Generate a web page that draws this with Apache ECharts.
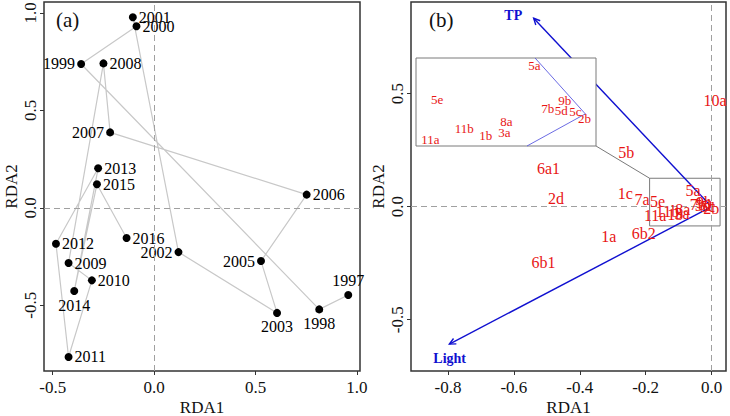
<!DOCTYPE html>
<html><head><meta charset="utf-8">
<script src="https://cdn.jsdelivr.net/npm/echarts@6/dist/echarts.min.js"></script>
<style>html,body{margin:0;padding:0;background:#fff}#c{width:730px;height:416px}</style>
</head><body><div id="c"></div>
<script>
// ---------- Panel (a): year scores ----------
const years    = ['1997','1998','1999','2000','2001','2002','2003','2005','2006','2007','2008','2009','2010','2011','2012','2013','2014','2015','2016'];
const yearRDA1 = [0.957,0.814,-0.360,-0.087,-0.105,0.120,0.606,0.527,0.752,-0.217,-0.250,-0.422,-0.307,-0.422,-0.484,-0.276,-0.394,-0.282,-0.136];
const yearRDA2 = [-0.447,-0.521,0.738,0.932,0.978,-0.227,-0.539,-0.273,0.068,0.387,0.741,-0.283,-0.372,-0.765,-0.184,0.203,-0.427,0.121,-0.155];
const yearLabelSide = {'1997':'top','1998':'bottom','1999':'left','2002':'left','2003':'bottom','2005':'left','2007':'left','2014':'bottom'};

// ---------- Panel (b): species scores and environmental vectors ----------
const speciesOuter = ['10a','5b','6a1','2d','1c','7a','1a','6b2','6b1'];
const outerRDA1    = [0.011,-0.259,-0.495,-0.472,-0.262,-0.211,-0.312,-0.206,-0.510];
const outerRDA2    = [0.472,0.239,0.170,0.037,0.059,0.033,-0.130,-0.118,-0.248];
const speciesCluster = ['5a','5e','7b','9b','5d','5c','2b','8a','3a','1b','11b','11a'];
const clusterRDA1    = [-0.0563,-0.1637,-0.0416,-0.0228,-0.0265,-0.011,-0.001,-0.0872,-0.0894,-0.110,-0.1336,-0.171];
const clusterRDA2    = [0.0738,0.0215,0.0088,0.020,0.0046,0.003,-0.0066,-0.0118,-0.0288,-0.0338,-0.0226,-0.0389];
const envVars  = ['TP','Light'];
const envRDA1  = [-0.540,-0.796];
const envRDA2  = [0.834,-0.608];
const envLabelRDA1 = [-0.602,-0.795];
const envLabelRDA2 = [0.845,-0.672];
const zoomBox = {x0:-0.188, x1:0.026, y0:-0.085, y1:0.126};

// ---------- ticks ----------
const ticksAx = [-0.5,0,0.5,1.0];
const ticksAy = [-0.5,0,0.5,1.0];
const ticksBx = [-0.8,-0.6,-0.4,-0.2,0];
const ticksBy = [-0.5,0,0.5];

const FONT = "Liberation Serif, Times New Roman, serif";
const RED = '#e81515', BLUE = '#1010d0';

function axis(gi, min, max, ticks, name, isY) {
  return {
    type:'value', gridIndex:gi, min:min, max:max,
    name:name, nameLocation:'middle', nameGap:isY?24:28, nameRotate:isY?90:0, nameMoveOverlap:false,
    nameTextStyle:{fontFamily:FONT, fontSize:17, color:'#111'},
    axisLine:{show:false, onZero:false},
    splitLine:{show:false},
    axisTick:{show:true, length:4, customValues:ticks, lineStyle:{color:'#333', width:1}},
    axisLabel:{customValues:ticks, formatter:v=>Number(v).toFixed(1), rotate:isY?90:0, margin:isY?5:8,
      fontFamily:FONT, fontSize:17, color:'#111'}
  };
}
function hiddenAxis(gi, min, max) {
  return {type:'value', gridIndex:gi, min:min, max:max, show:false, axisLine:{onZero:false}, splitLine:{show:false}};
}
const zeroLines = (color, dash, w) => ({silent:true, symbol:'none', label:{show:false},
  lineStyle:{type:dash, color:color, width:w, opacity:1}, data:[{xAxis:0},{yAxis:0}], animation:false});

function arrowItem(params, api) {
  const s = api.coord([0,0]);
  const e = api.coord([api.value(0), api.value(1)]);
  const ang = Math.atan2(e[1]-s[1], e[0]-s[0]);
  const L = 7, a = Math.PI/7;
  const h1 = [e[0]-L*Math.cos(ang-a), e[1]-L*Math.sin(ang-a)];
  const h2 = [e[0]-L*Math.cos(ang+a), e[1]-L*Math.sin(ang+a)];
  return {type:'group', children:[
    {type:'line', shape:{x1:s[0],y1:s[1],x2:e[0],y2:e[1]}, style:{stroke:BLUE, lineWidth:1.4}},
    {type:'polyline', shape:{points:[h1,e,h2]}, style:{stroke:BLUE, lineWidth:1.4, fill:'none'}}
  ]};
}
function clippedLine(params, api) {
  const r = params.coordSys;
  const s = api.coord([0,0]);
  const e = api.coord([api.value(0), api.value(1)]);
  const dx = e[0]-s[0], dy = e[1]-s[1];
  let t = 1;
  if (dx<0) t = Math.min(t,(r.x-s[0])/dx);
  if (dx>0) t = Math.min(t,(r.x+r.width-s[0])/dx);
  if (dy<0) t = Math.min(t,(r.y-s[1])/dy);
  if (dy>0) t = Math.min(t,(r.y+r.height-s[1])/dy);
  return {type:'line', shape:{x1:s[0],y1:s[1],x2:s[0]+dx*t,y2:s[1]+dy*t}, style:{stroke:'#5a5ae0', lineWidth:0.9}};
}
function textPoints(names, xs, ys) { return names.map((n,i)=>({name:n, value:[xs[i], ys[i]]})); }
function labelSeries(xi, yi, data, size, color, weight, z) {
  return {type:'scatter', xAxisIndex:xi, yAxisIndex:yi, data:data, symbolSize:1, z:z||5,
    itemStyle:{color:'rgba(0,0,0,0)', opacity:1}, silent:true,
    label:{show:true, position:'inside', formatter:'{b}', fontFamily:FONT, fontSize:size, color:color, opacity:1, fontWeight:weight||'normal'}};
}

const chart = echarts.init(document.getElementById('c'), null, {renderer:'svg'});
const gridBase = {show:true, outerBoundsMode:'none', containLabel:false};
const option = {
  animation:false,
  backgroundColor:'#fff',
  title:[
    {text:'(a)', left:56, top:9, padding:0, textStyle:{fontFamily:FONT, fontSize:21, fontWeight:'normal', color:'#111'}},
    {text:'(b)', left:429, top:9, padding:0, textStyle:{fontFamily:FONT, fontSize:21, fontWeight:'normal', color:'#111'}}
  ],
  grid:[
    Object.assign({left:44, top:2, width:316, height:369, borderColor:'#333', borderWidth:1.5, backgroundColor:'transparent'}, gridBase),
    Object.assign({left:411, top:2, width:315, height:369, borderColor:'#333', borderWidth:1.5, backgroundColor:'transparent'}, gridBase),
    Object.assign({left:416, top:58, width:180, height:88, borderColor:'#7a7a7a', borderWidth:1, backgroundColor:'#fff', z:10}, gridBase)
  ],
  xAxis:[
    axis(0, -0.543, 1.015, ticksAx, 'RDA1', false),
    axis(1, -0.9125, 0.044, ticksBx, 'RDA1', false),
    hiddenAxis(2, -0.187, 0.0118)
  ],
  yAxis:[
    axis(0, -0.837, 1.056, ticksAy, 'RDA2', true),
    axis(1, -0.727, 0.906, ticksBy, 'RDA2', true),
    hiddenAxis(2, -0.0492, 0.0857)
  ],
  series:[
    // panel (a) trajectory
    {type:'line', xAxisIndex:0, yAxisIndex:0, symbol:'none', silent:true, z:2,
      data: years.map((y,i)=>[yearRDA1[i], yearRDA2[i]]),
      lineStyle:{color:'#c8c8c8', width:1.2},
      markLine: zeroLines('#a0a0a0', [6,4], 1)},
    // panel (a) points
    {type:'scatter', xAxisIndex:0, yAxisIndex:0, symbolSize:8, z:4, silent:true,
      itemStyle:{color:'#000', opacity:1},
      data: years.map((y,i)=>({name:y, value:[yearRDA1[i], yearRDA2[i]],
        label:{position: yearLabelSide[y] || 'right'}})),
      label:{show:true, formatter:'{b}', distance:2, fontFamily:FONT, fontSize:16, color:'#000'}},
    // panel (b) zero lines + zoom box
    {type:'custom', xAxisIndex:1, yAxisIndex:1, z:2, silent:true, data:[[zoomBox.x0, zoomBox.y0, zoomBox.x1, zoomBox.y1]],
      renderItem:(params, api)=>{
        const p0 = api.coord([api.value(0), api.value(3)]);
        const p1 = api.coord([api.value(2), api.value(1)]);
        return {type:'rect', shape:{x:p0[0], y:p0[1], width:p1[0]-p0[0], height:p1[1]-p0[1]},
          style:{stroke:'#7a7a7a', lineWidth:1, fill:'none'}};
      },
      markLine: zeroLines('#a0a0a0', [6,4], 1)},
    // env arrows
    {type:'custom', xAxisIndex:1, yAxisIndex:1, z:3, silent:true,
      data: envVars.map((n,i)=>[envRDA1[i], envRDA2[i]]), renderItem: arrowItem},
    labelSeries(1, 1, textPoints(envVars, envLabelRDA1, envLabelRDA2), 14, BLUE, 'bold'),
    labelSeries(1, 1, textPoints(speciesOuter, outerRDA1, outerRDA2), 16, RED),
    labelSeries(1, 1, textPoints(speciesCluster, clusterRDA1, clusterRDA2), 16, RED),
    // inset
    {type:'custom', xAxisIndex:2, yAxisIndex:2, z:12, silent:true,
      data: envVars.map((n,i)=>[envRDA1[i], envRDA2[i]]), renderItem: clippedLine,
      markLine: zeroLines('#c4c4c4', [3,2], 0.8)},
    labelSeries(2, 2, textPoints(speciesCluster, clusterRDA1, clusterRDA2), 13, RED, 'normal', 13)
  ]
};
chart.setOption(option);
// connector from inset corner to zoom box corner (positions derived from the axes)
const pA = chart.convertToPixel({xAxisIndex:2, yAxisIndex:2}, [0.0118, -0.0492]);
const pB = chart.convertToPixel({xAxisIndex:1, yAxisIndex:1}, [zoomBox.x0, zoomBox.y1]);
chart.setOption({graphic:[{type:'line', z:11, silent:true,
  shape:{x1:pA[0], y1:pA[1], x2:pB[0], y2:pB[1]}, style:{stroke:'#6a6a6a', lineWidth:0.9}}]});
</script></body></html>
